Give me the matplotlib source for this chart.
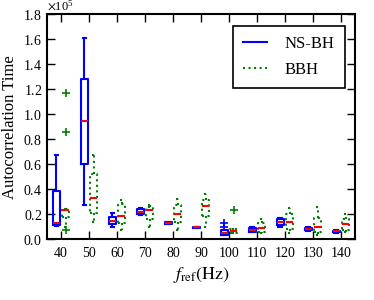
import numpy as np
import matplotlib
matplotlib.use('Agg')
import matplotlib.pyplot as plt
from matplotlib.lines import Line2D
from matplotlib.ticker import ScalarFormatter

plt.rcParams['font.family'] = 'serif'
plt.rcParams['font.serif'] = ['Liberation Serif', 'DejaVu Serif']
plt.rcParams['mathtext.fontset'] = 'stix'

# reference frequencies (Hz)
freqs = [40, 50, 60, 70, 80, 90, 100, 110, 120, 130, 140]

# NS-BH box statistics (x 1e5)
nsbh_whislo = [0.104, 0.272, 0.093, 0.19, 0.12, 0.087, 0.03, 0.053, 0.093, 0.064, 0.05]
nsbh_q1 = [0.112, 0.605, 0.117, 0.20, 0.124, 0.088, 0.035, 0.06, 0.11, 0.07, 0.054]
nsbh_med = [0.13, 0.944, 0.147, 0.22, 0.13, 0.093, 0.045, 0.075, 0.133, 0.08, 0.061]
nsbh_q3 = [0.384, 1.28, 0.18, 0.24, 0.136, 0.098, 0.07, 0.09, 0.16, 0.09, 0.068]
nsbh_whishi = [0.677, 1.61, 0.208, 0.25, 0.137, 0.099, 0.075, 0.098, 0.171, 0.098, 0.072]
nsbh_fliers = [[], [], [], [], [], [], [0.125, 0.10], [], [], [], []]

# BBH box statistics (x 1e5)
bbh_whislo = [0.095, 0.139, 0.072, 0.093, 0.072, 0.099, 0.05, 0.051, 0.045, 0.032, 0.053]
bbh_q1 = [0.176, 0.21, 0.125, 0.165, 0.14, 0.184, 0.052, 0.06, 0.08, 0.06, 0.07]
bbh_med = [0.232, 0.333, 0.187, 0.232, 0.205, 0.267, 0.064, 0.091, 0.133, 0.098, 0.12]
bbh_q3 = [0.243, 0.52, 0.285, 0.26, 0.27, 0.31, 0.08, 0.13, 0.20, 0.17, 0.16]
bbh_whishi = [0.243, 0.672, 0.312, 0.272, 0.325, 0.365, 0.083, 0.16, 0.251, 0.259, 0.205]
bbh_fliers = [[1.17, 0.86, 0.075], [], [], [], [], [], [0.232], [], [], [], []]


def make_stats(lo, q1, med, q3, hi, fl):
    stats = []
    for i in range(len(med)):
        stats.append(dict(whislo=lo[i] * 1e5, q1=q1[i] * 1e5, med=med[i] * 1e5,
                          q3=q3[i] * 1e5, whishi=hi[i] * 1e5,
                          fliers=np.array(fl[i]) * 1e5))
    return stats


fig = plt.figure(figsize=(3.74, 3.0), dpi=100)
ax = fig.add_axes([0.126, 0.203, 0.823, 0.749])

pos = np.arange(1, len(freqs) + 1)
lw = 1.5

ax.bxp(make_stats(nsbh_whislo, nsbh_q1, nsbh_med, nsbh_q3, nsbh_whishi, nsbh_fliers),
       positions=pos - 0.17, widths=0.25,
       boxprops=dict(color='blue', lw=lw),
       whiskerprops=dict(color='blue', lw=lw, linestyle='-'),
       capprops=dict(color='blue', lw=lw),
       medianprops=dict(color='red', lw=lw),
       flierprops=dict(marker='+', markeredgecolor='blue', markersize=6, mew=1.2))

ax.bxp(make_stats(bbh_whislo, bbh_q1, bbh_med, bbh_q3, bbh_whishi, bbh_fliers),
       positions=pos + 0.17, widths=0.25,
       boxprops=dict(color='green', lw=lw, linestyle=':'),
       whiskerprops=dict(color='green', lw=lw, linestyle=':'),
       capprops=dict(color='green', lw=lw, linestyle=':'),
       medianprops=dict(color='red', lw=lw),
       flierprops=dict(marker='+', markeredgecolor='green', markersize=6, mew=1.2))

ax.set_xlim(0.5, len(freqs) + 0.5)
ax.set_xticks(pos)
ax.set_xticklabels([str(f) for f in freqs])
ax.set_ylim(0, 1.8e5)
ax.set_yticks(np.arange(0, 1.81e5, 0.2e5))
fmt = ScalarFormatter(useMathText=True)
fmt.set_powerlimits((0, 0))
ax.yaxis.set_major_formatter(fmt)
ax.yaxis.get_offset_text().set_fontsize(9)

ax.tick_params(direction='in', top=True, right=True, length=6, width=1, labelsize=10)
ax.tick_params(axis='x', pad=6)
for s in ax.spines.values():
    s.set_linewidth(1.5)

ax.set_xlabel(r'$f_{\rm ref}(\rm Hz)$', fontsize=13, labelpad=3)
ax.set_ylabel('Autocorrelation Time', fontsize=12, labelpad=4)

handles = [Line2D([], [], color='blue', lw=lw),
           Line2D([], [], color='green', lw=lw, linestyle=':')]
leg = ax.legend(handles, ['NS-BH', 'BBH'], loc='upper right',
                bbox_to_anchor=(0.978, 0.965), fontsize=12, fancybox=False,
                framealpha=1, edgecolor='black', handlelength=1.4,
                handletextpad=1.1, borderpad=0.6, labelspacing=0.6,
                borderaxespad=0.2)
leg.get_frame().set_linewidth(1.2)

fig.savefig('out.png', dpi=100)
